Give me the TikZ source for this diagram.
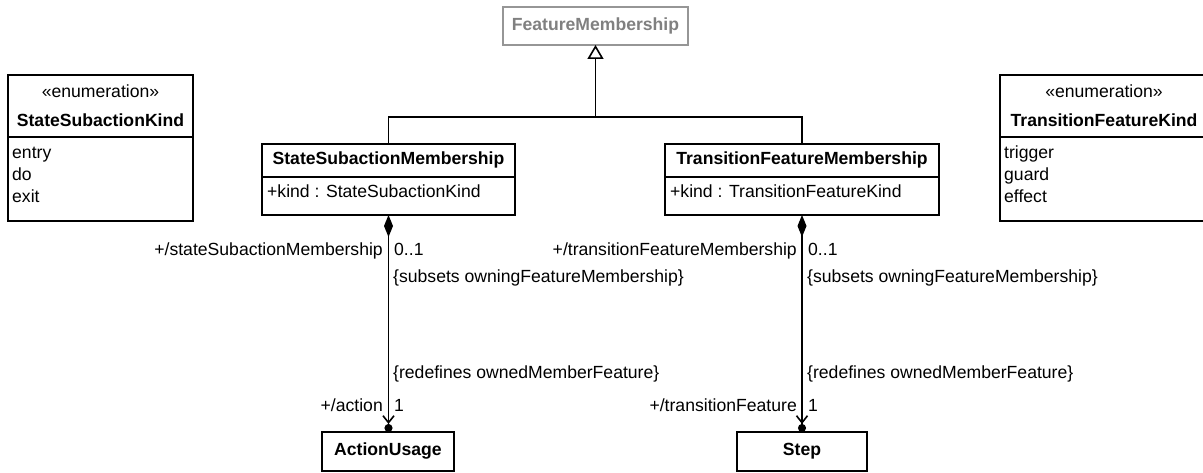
\documentclass[tikz,border=0pt]{standalone}
\usepackage{fontspec}
\setmainfont{Liberation Sans}
\usetikzlibrary{arrows.meta,positioning,calc}
\definecolor{FrameGray}{RGB}{150,150,150}
\definecolor{TextGray}{RGB}{128,128,128}
\newcommand{\umlsize}{\fontsize{17.6}{21.1}\selectfont}

\tikzset{
	umlbox/.style={draw, line width=1.6pt, inner sep=0pt, outer sep=0pt, anchor=north west,
		text height=12.6pt, text depth=3.7pt, font=\umlsize\bfseries},
	bodybox/.style={draw, line width=1.6pt, inner sep=0pt, outer sep=0pt, anchor=north west},
	txt/.style={anchor=base west, inner sep=0pt, align=left},
	rlbl/.style={anchor=base east, inner sep=0pt},
	llbl/.style={anchor=base west, inner sep=0pt},
	assoc/.style={line width=1.6pt,
		{Diamond[length=22pt,width=9pt]}-{Straight Barb[length=7pt,width=11pt] Circle[length=8pt]}},
}

\begin{document}
\begin{tikzpicture}[x=1pt, y=-1pt, font=\umlsize]
	\useasboundingbox (0,0) rectangle (1203,473);
	
	% Oberklasse
	\node[umlbox, draw=FrameGray, text=TextGray, minimum width=185, minimum height=38] (fm) at (503,7) {FeatureMembership};
	
	% Aufzaehlungen
	\node[bodybox, minimum width=185, minimum height=62, align=center,
		font=\fontsize{17.6}{29}\selectfont] (sskh) at (8,75) {«enumeration»\\\textbf{StateSubactionKind}};
	\node[bodybox, minimum width=185, minimum height=84] (sskb) at (sskh.south west) {};
	\node[txt, font=\fontsize{17.6}{22}\selectfont] (sskl) at ($(sskb.north west)+(4,66)$) {entry\\do\\exit};
	
	\node[bodybox, minimum width=208, minimum height=62, align=center,
		font=\fontsize{17.6}{29}\selectfont] (tfkh) at (1000,75) {«enumeration»\\\textbf{TransitionFeatureKind}};
	\node[bodybox, minimum width=208, minimum height=84] (tfkb) at (tfkh.south west) {};
	\node[txt, font=\fontsize{17.6}{22}\selectfont] (tfkl) at ($(tfkb.north west)+(4,66)$) {trigger\\guard\\effect};
	
	% Membership-Klassen
	\node[umlbox, minimum width=253, minimum height=33] (ssm) at (262,144) {StateSubactionMembership};
	\node[bodybox, minimum width=253, minimum height=38] (ssmb) at (ssm.south west) {};
	\node[txt] (ssmk) at ($(ssmb.north west)+(5,21)$) {+kind : StateSubactionKind};
	
	\node[umlbox, minimum width=274, minimum height=33] (tfm) at (665,144) {TransitionFeatureMembership};
	\node[bodybox, minimum width=274, minimum height=38] (tfmb) at (tfm.south west) {};
	\node[txt] (tfmk) at ($(tfmb.north west)+(5,21)$) {+kind : TransitionFeatureKind};
	
	% Zielklassen
	\node[umlbox, minimum width=132, minimum height=39] (au) at (322,432) {ActionUsage};
	\node[umlbox, minimum width=130, minimum height=39] (step) at (737,432) {Step};
	
	% Generalisierung
	\path (fm.south) ++(0,72) coordinate (genj);
	\draw[line width=1.6pt] (ssm.north) |- (genj) -| (tfm.north);
	\draw[line width=1.6pt, -{Triangle[open, length=14pt, width=16pt, fill=white]}] (genj) -- (fm.south);
	
	% Kompositionen
	\draw[assoc] (ssmb.south) -- (ssmb.south |- au.north);
	\draw[assoc] (tfmb.south) -- (tfmb.south |- step.north);
	
	% Rollen und Multiplizitaeten
	\node[rlbl] (ssmr) at (383,256) {+/stateSubactionMembership};
	\node[llbl] (ssmm) at (394,256) {0..1};
	\node[llbl] (ssms) at (393,283) {\{subsets owningFeatureMembership\}};
	\node[llbl] (aur) at (393,378) {\{redefines ownedMemberFeature\}};
	\node[rlbl] (aun) at (383,411) {+/action};
	\node[llbl] (aum) at (394,411) {1};
	
	\node[rlbl] (tfmr) at (797,256) {+/transitionFeatureMembership};
	\node[llbl] (tfmm) at (808,256) {0..1};
	\node[llbl] (tfms) at (807,283) {\{subsets owningFeatureMembership\}};
	\node[llbl] (stepr) at (807,378) {\{redefines ownedMemberFeature\}};
	\node[rlbl] (stepn) at (797,411) {+/transitionFeature};
	\node[llbl] (stepm) at (808,411) {1};
\end{tikzpicture}
\end{document}
